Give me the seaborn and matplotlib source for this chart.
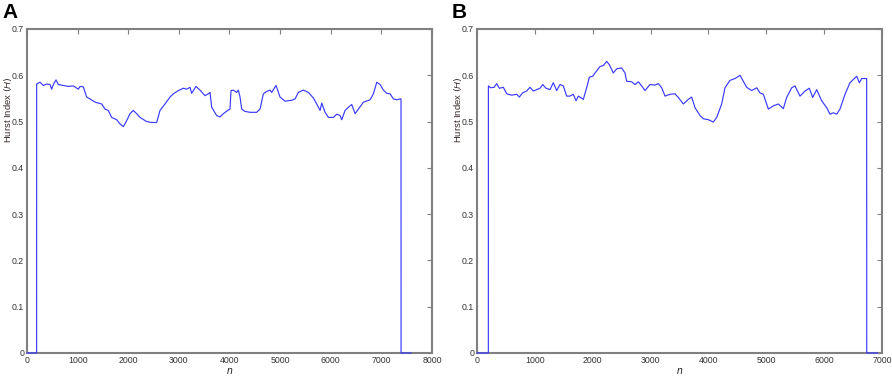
import numpy as np
import pandas as pd
import matplotlib
matplotlib.use("Agg")
import matplotlib.pyplot as plt
import seaborn as sns

# ---- Panel A data ----
a_n = [0, 190, 191, 257, 323, 389, 454, 487, 520, 573, 619, 718, 817, 915, 1014, 1047, 1113,
       1178, 1244, 1343, 1475, 1541, 1606, 1672, 1771, 1837, 1903, 1969, 2034, 2100, 2166,
       2232, 2364, 2463, 2561, 2627, 2726, 2825, 2891, 2990, 3088, 3154, 3220, 3253, 3338,
       3417, 3516, 3582, 3615, 3648, 3747, 3812, 3878, 3977, 4010, 4030, 4076, 4142, 4175,
       4208, 4241, 4306, 4405, 4537, 4603, 4669, 4734, 4800, 4833, 4919, 4998, 5097, 5229,
       5295, 5360, 5459, 5558, 5657, 5723, 5789, 5822, 5888, 5954, 6052, 6118, 6184, 6217,
       6283, 6349, 6415, 6481, 6547, 6645, 6777, 6843, 6909, 6975, 7040, 7106, 7172, 7238,
       7304, 7370, 7388, 7389, 7590]
a_h = [0, 0, 0.581, 0.585, 0.578, 0.581, 0.580, 0.570, 0.580, 0.590, 0.580, 0.578, 0.576,
       0.577, 0.570, 0.576, 0.575, 0.553, 0.549, 0.542, 0.538, 0.527, 0.524, 0.509, 0.504,
       0.495, 0.489, 0.502, 0.517, 0.524, 0.517, 0.509, 0.500, 0.498, 0.498, 0.524, 0.538,
       0.553, 0.560, 0.567, 0.572, 0.570, 0.574, 0.561, 0.576, 0.568, 0.556, 0.560, 0.563,
       0.531, 0.513, 0.510, 0.517, 0.525, 0.527, 0.567, 0.568, 0.563, 0.568, 0.553, 0.527,
       0.522, 0.520, 0.520, 0.527, 0.560, 0.565, 0.568, 0.563, 0.578, 0.553, 0.544, 0.546,
       0.549, 0.563, 0.568, 0.563, 0.551, 0.538, 0.524, 0.540, 0.520, 0.509, 0.509, 0.516,
       0.513, 0.504, 0.524, 0.531, 0.537, 0.517, 0.527, 0.542, 0.547, 0.560, 0.585, 0.580,
       0.568, 0.561, 0.560, 0.549, 0.547, 0.549, 0.549, 0, 0]

# ---- Panel B data ----
b_n = [0, 196, 197, 236, 294, 340, 386, 455, 513, 599, 686, 732, 789, 858, 916, 974, 1031,
       1089, 1135, 1193, 1262, 1319, 1377, 1435, 1492, 1550, 1608, 1665, 1711, 1752, 1838,
       1895, 1942, 2000, 2040, 2126, 2183, 2241, 2287, 2356, 2414, 2500, 2558, 2587, 2673,
       2731, 2789, 2846, 2904, 2990, 3077, 3135, 3192, 3250, 3336, 3422, 3480, 3566, 3653,
       3710, 3768, 3855, 3913, 3999, 4085, 4143, 4229, 4286, 4373, 4459, 4546, 4603, 4661,
       4747, 4834, 4891, 4949, 5036, 5122, 5209, 5295, 5352, 5439, 5496, 5583, 5669, 5744,
       5802, 5871, 5957, 6044, 6101, 6159, 6217, 6274, 6361, 6447, 6505, 6563, 6609, 6649,
       6706, 6735, 6736, 6925]
b_h = [0, 0, 0.577, 0.573, 0.574, 0.582, 0.572, 0.574, 0.560, 0.557, 0.559, 0.553, 0.562,
       0.566, 0.574, 0.566, 0.569, 0.572, 0.580, 0.572, 0.569, 0.584, 0.567, 0.580, 0.577,
       0.555, 0.555, 0.559, 0.545, 0.555, 0.548, 0.573, 0.596, 0.598, 0.605, 0.619, 0.621,
       0.630, 0.623, 0.605, 0.614, 0.616, 0.605, 0.587, 0.586, 0.580, 0.586, 0.577, 0.567,
       0.580, 0.579, 0.582, 0.573, 0.555, 0.559, 0.560, 0.552, 0.538, 0.548, 0.553, 0.530,
       0.513, 0.506, 0.504, 0.499, 0.509, 0.538, 0.573, 0.589, 0.593, 0.600, 0.587, 0.574,
       0.567, 0.573, 0.562, 0.559, 0.527, 0.534, 0.538, 0.528, 0.552, 0.573, 0.577, 0.555,
       0.566, 0.572, 0.552, 0.569, 0.545, 0.530, 0.516, 0.519, 0.516, 0.527, 0.559, 0.584,
       0.591, 0.598, 0.584, 0.593, 0.593, 0.593, 0, 0]

panels = [
    ("A", a_n, a_h, 8000, list(range(0, 8001, 1000))),
    ("B", b_n, b_h, 7000, list(range(0, 7001, 1000))),
]
y_ticks = [0, 0.1, 0.2, 0.3, 0.4, 0.5, 0.6, 0.7]
y_ticklabels = ["0", "0.1", "0.2", "0.3", "0.4", "0.5", "0.6", "0.7"]

sns.set_style("white")
plt.rcParams['font.family'] = ['Liberation Sans', 'DejaVu Sans']
plt.rcParams['mathtext.fontset'] = 'custom'
plt.rcParams['mathtext.it'] = 'Liberation Sans:italic'

fig = plt.figure(figsize=(8.92, 3.76), dpi=100)
W, H = 892, 376
lefts = [27, 477]
spine_col = "#808080"
for (letter, xs, ys, xmax, xt), lp in zip(panels, lefts):
    ax = fig.add_axes([lp / W, (H - 353) / H, 405 / W, 324 / H])
    df = pd.DataFrame({"n": xs, "H": ys})
    sns.lineplot(data=df, x="n", y="H", ax=ax, sort=False, estimator=None,
                 color="#3a3aff", linewidth=0.85, clip_on=False, zorder=5)
    ax.set_xlim(0, xmax)
    ax.set_ylim(0, 0.7)
    ax.set_xticks(xt)
    ax.set_xticklabels([str(v) for v in xt])
    ax.set_yticks(y_ticks)
    ax.set_yticklabels(y_ticklabels)
    for s in ax.spines.values():
        s.set_color(spine_col)
        s.set_linewidth(1.5)
        s.set_visible(True)
    ax.tick_params(direction="in", length=3.5, width=0.8, color=spine_col,
                   top=True, right=True, labelsize=6.3, labelcolor="#333333", pad=2)
    ax.set_xlabel("n", fontsize=7.5, style="italic", color="#222222", labelpad=1)
    ax.set_ylabel("Hurst Index $(H)$", fontsize=6.8, color="#3a2a2a")
    ax.yaxis.label.set_verticalalignment("center")
    ax.yaxis.set_label_coords(-0.048, 0.75)
    fig.text((lp - 25) / W, 1 - 3 / H, letter, fontsize=15, fontweight="bold",
             va="top", ha="left", color="black")

fig.savefig("out.png", dpi=100)
